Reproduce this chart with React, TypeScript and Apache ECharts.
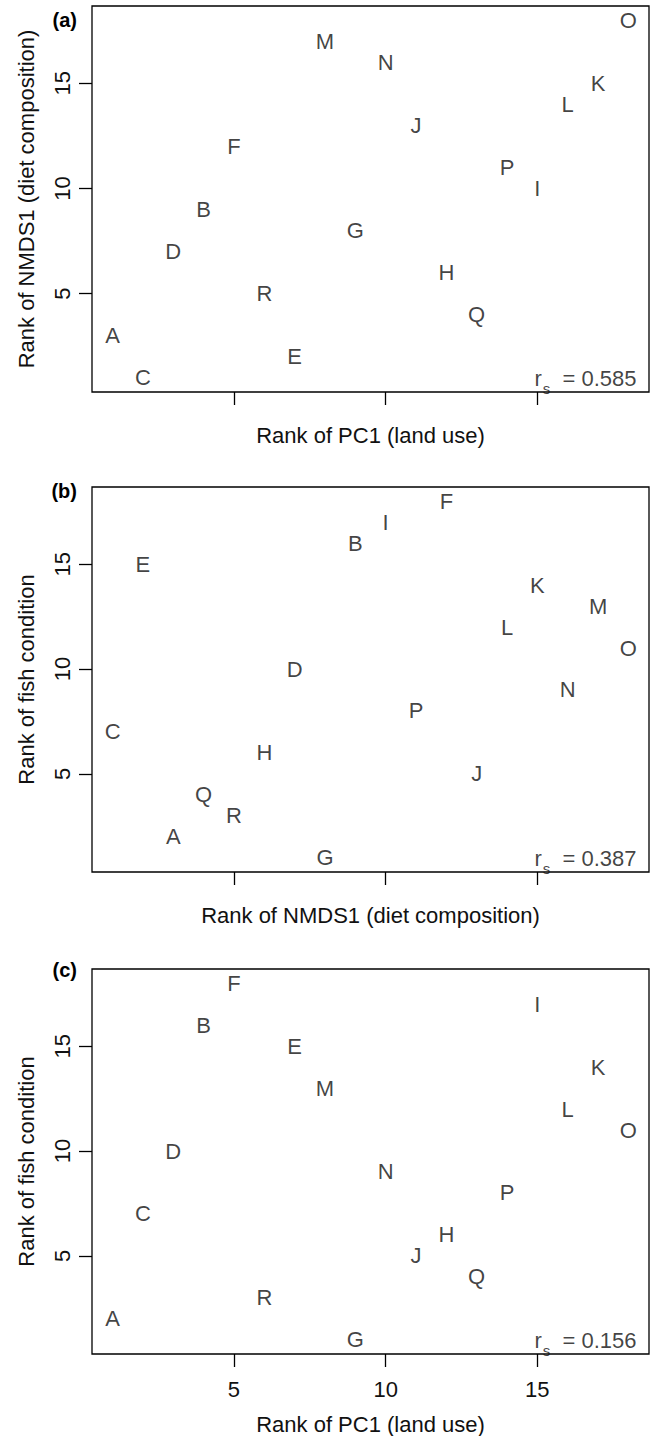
import React, { useEffect, useRef } from "react";
import * as echarts from "echarts";

const letters = ["A", "B", "C", "D", "E", "F", "G", "H", "I", "J", "K", "L", "M", "N", "O", "P", "Q", "R"];
const pc1Rank = [1, 4, 2, 3, 7, 5, 9, 12, 15, 11, 17, 16, 8, 10, 18, 14, 13, 6];
const nmds1Rank = [3, 9, 1, 7, 2, 12, 8, 6, 10, 13, 15, 14, 17, 16, 18, 11, 4, 5];
const fishRank = [2, 16, 7, 10, 15, 18, 1, 6, 17, 5, 14, 12, 13, 9, 11, 8, 4, 3];
const tickValues = [5, 10, 15];
const rsValues = ["0.585", "0.387", "0.156"];
const panelTags = ["(a)", "(b)", "(c)"];
const xTitles = ["Rank of PC1 (land use)", "Rank of NMDS1 (diet composition)", "Rank of PC1 (land use)"];
const yTitles = ["Rank of NMDS1 (diet composition)", "Rank of fish condition", "Rank of fish condition"];
const panelX = [pc1Rank, nmds1Rank, pc1Rank];
const panelY = [nmds1Rank, fishRank, fishRank];

const FONT = "'Liberation Sans', Arial, Helvetica, sans-serif";
const FS = 22;
const AXIS_MIN = 0.32;
const AXIS_MAX = 18.68;
const RS_POS = [18.27, 1];

export default function App() {
  const ref = useRef<HTMLDivElement>(null);
  useEffect(() => {
    document.body.style.margin = "0";
    if (!ref.current) return;
    const chart = echarts.init(ref.current, undefined, { renderer: "svg" });
    const tops = [6, 487, 969];
    const heights = [386, 385, 385];
    const tagY = [20, 491, 970];
    const grid = tops.map((t, i) => ({
      left: 92,
      width: 557,
      top: t,
      height: heights[i],
      show: true,
      borderColor: "#000",
      borderWidth: 1.3,
      backgroundColor: "transparent",
    }));
    const xAxis = [0, 1, 2].map((i) => ({
      type: "value",
      gridIndex: i,
      min: AXIS_MIN,
      max: AXIS_MAX,
      axisLine: { show: false },
      splitLine: { show: false },
      axisTick: {
        show: true,
        customValues: tickValues,
        length: 13,
        lineStyle: { color: "#000", width: 1.3 },
      },
      axisLabel: {
        show: i === 2,
        customValues: tickValues,
        margin: 24,
        fontSize: FS,
        color: "#111",
        fontFamily: FONT,
      },
      name: xTitles[i],
      nameLocation: "middle",
      nameGap: i === 2 ? 59 : 32,
      nameTextStyle: { fontSize: FS, color: "#111", fontFamily: FONT },
    }));
    const yAxis = [0, 1, 2].map((i) => ({
      type: "value",
      gridIndex: i,
      min: AXIS_MIN,
      max: AXIS_MAX,
      axisLine: { show: false },
      splitLine: { show: false },
      axisTick: {
        show: true,
        customValues: tickValues,
        length: 13,
        lineStyle: { color: "#000", width: 1.3 },
      },
      axisLabel: {
        show: true,
        customValues: tickValues,
        rotate: 90,
        margin: 19,
        fontSize: FS,
        color: "#111",
        fontFamily: FONT,
      },
      name: yTitles[i],
      nameLocation: "middle",
      nameGap: 55,
      nameTextStyle: { fontSize: FS, color: "#111", fontFamily: FONT },
    }));
    const series: any[] = [];
    [0, 1, 2].forEach((i) => {
      series.push({
        type: "scatter",
        xAxisIndex: i,
        yAxisIndex: i,
        symbolSize: 0,
        data: letters.map((l, k) => ({ name: l, value: [panelX[i][k], panelY[i][k]] })),
        label: {
          show: true,
          position: "inside",
          formatter: (p: any) => p.name,
          fontSize: FS,
          color: "#111",
          fontFamily: FONT,
        },
        silent: true,
      });
      series.push({
        type: "scatter",
        xAxisIndex: i,
        yAxisIndex: i,
        symbolSize: 0,
        data: [{ value: RS_POS }],
        label: {
          show: true,
          position: "inside",
          align: "right",
          offset: [0, 2],
          formatter: "{r|r}{s|s}{t|  = " + rsValues[i] + "}",
          rich: {
            r: { fontSize: FS, lineHeight: 24, verticalAlign: "top", color: "#111", fontFamily: FONT },
            s: { fontSize: 15, lineHeight: 15, padding: [13, 0, 0, 1], verticalAlign: "top", color: "#111", fontFamily: FONT },
            t: { fontSize: FS, lineHeight: 24, verticalAlign: "top", color: "#111", fontFamily: FONT },
          },
        },
        silent: true,
      });
    });
    chart.setOption({
      animation: false,
      textStyle: { fontFamily: FONT },
      grid,
      xAxis,
      yAxis,
      series,
      graphic: panelTags.map((t, i) => ({
        type: "text",
        x: 77,
        y: tagY[i],
        style: {
          text: t,
          align: "right",
          verticalAlign: "middle",
          font: "bold 20px " + FONT,
          fill: "#000",
        },
      })),
    });
    return () => chart.dispose();
  }, []);
  return <div ref={ref} style={{ width: 656, height: 1436 }} />;
}
